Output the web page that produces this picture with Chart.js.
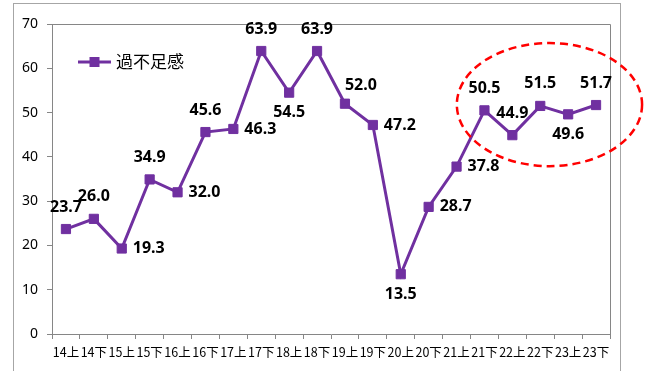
<!DOCTYPE html>
<html><head><meta charset="utf-8">
<script src="https://cdn.jsdelivr.net/npm/chart.js@4"></script>
<style>html,body{margin:0;padding:0;background:#fff}</style>
</head><body>
<canvas id="c" width="649" height="371" style="width:649px;height:371px;display:block"></canvas>
<script>
const categories = ['14上','14下','15上','15下','16上','16下','17上','17下','18上','18下','19上','19下','20上','20下','21上','21下','22上','22下','23上','23下'];
const seriesName = '過不足感';
const values = [23.7, 26.0, 19.3, 34.9, 32.0, 45.6, 46.3, 63.9, 54.5, 63.9, 52.0, 47.2, 13.5, 28.7, 37.8, 50.5, 44.9, 51.5, 49.6, 51.7];
const yTicks = [0, 10, 20, 30, 40, 50, 60, 70];

// label placement per point: a = above, b = below, r = right, ar = above-right
const labelPlacement = ['a','a','r','a','r','a','r','a','b','a','ar','r','b','r','r','a','a','a','b','a'];

const PURPLE = '#7030A0';
const AXIS = '#868686';

const decor = {
  id: 'decor',
  beforeDraw(chart) {
    const ctx = chart.ctx;
    ctx.save();
    ctx.fillStyle = '#fff';
    ctx.fillRect(0, 0, chart.width, chart.height);
    ctx.strokeStyle = '#a6a6a6';
    ctx.lineWidth = 1;
    ctx.strokeRect(13.5, 3.5, 607, 400);
    ctx.restore();
  },
  afterDraw(chart) {
    const ctx = chart.ctx;
    const a = chart.chartArea;
    ctx.save();
    // plot area top/right border
    ctx.strokeStyle = AXIS;
    ctx.lineWidth = 1;
    ctx.beginPath();
    ctx.moveTo(Math.round(a.left), Math.round(a.top) + 0.5);
    ctx.lineTo(Math.round(a.right) + 0.5, Math.round(a.top) + 0.5);
    ctx.lineTo(Math.round(a.right) + 0.5, Math.round(a.bottom));
    ctx.stroke();

    // data labels
    const meta = chart.getDatasetMeta(0);
    ctx.fillStyle = '#000';
    ctx.font = 'bold 16px "Noto Sans", "Liberation Sans", sans-serif';
    ctx.textBaseline = 'middle';
    meta.data.forEach((pt, i) => {
      const txt = values[i].toFixed(1);
      const p = labelPlacement[i];
      let x = pt.x, y = pt.y;
      if (p === 'a') { ctx.textAlign = 'center'; y -= 22; }
      else if (p === 'b') { ctx.textAlign = 'center'; y += 20; }
      else if (p === 'r') { ctx.textAlign = 'left'; x += 11; }
      else if (p === 'ar') { ctx.textAlign = 'left'; x += 0; y -= 18; }
      ctx.fillText(txt, x, y);
    });

    // legend
    const ly = 62, lx0 = 78, lx1 = 111;
    ctx.strokeStyle = PURPLE;
    ctx.lineWidth = 3;
    ctx.beginPath();
    ctx.moveTo(lx0, ly); ctx.lineTo(lx1, ly); ctx.stroke();
    ctx.fillStyle = PURPLE;
    ctx.fillRect((lx0 + lx1) / 2 - 5, ly - 5, 10, 10);
    ctx.fillStyle = '#000';
    ctx.font = '17px "Noto Sans CJK JP", sans-serif';
    ctx.textAlign = 'left';
    ctx.textBaseline = 'middle';
    ctx.fillText(seriesName, 116, ly);

    // highlight ellipse (value space)
    const xs = chart.scales.x, ys = chart.scales.y;
    const cx = xs.getPixelForValue(17.33);
    const rx = xs.getPixelForValue(17.33 + 3.32) - cx;
    const cy = ys.getPixelForValue(51.8);
    const ry = ys.getPixelForValue(51.8 - 13.9) - cy;
    ctx.strokeStyle = '#FF0000';
    ctx.lineWidth = 2.5;
    ctx.setLineDash([8, 5]);
    ctx.beginPath();
    ctx.ellipse(cx, cy, rx, ry, 0, 0, Math.PI * 2);
    ctx.stroke();
    ctx.restore();
  }
};

new Chart(document.getElementById('c'), {
  type: 'line',
  data: {
    labels: categories,
    datasets: [{
      label: seriesName,
      data: values,
      borderColor: PURPLE,
      backgroundColor: PURPLE,
      borderWidth: 3,
      pointStyle: 'rect',
      pointRadius: 6.5,
      pointBorderWidth: 1,
      pointBackgroundColor: PURPLE,
      pointBorderColor: PURPLE,
      tension: 0,
      fill: false
    }]
  },
  options: {
    responsive: false,
    animation: false,
    devicePixelRatio: 1,
    layout: { padding: { top: 24, right: 39, left: 0, bottom: 0 } },
    plugins: { legend: { display: false }, tooltip: { enabled: false } },
    scales: {
      x: {
        type: 'category',
        offset: true,
        grid: { offset: true, drawOnChartArea: false, drawTicks: true, tickLength: 5, color: AXIS },
        border: { color: AXIS, width: 1 },
        ticks: { autoSkip: false, maxRotation: 0, minRotation: 0, padding: 6, color: '#000',
                 font: { family: '"Noto Sans CJK JP", sans-serif', size: 12.5 } },
        afterFit(s) { s.height = 37; }
      },
      y: {
        min: 0, max: 70,
        grid: { drawOnChartArea: false, drawTicks: true, tickLength: 5, color: AXIS },
        border: { color: AXIS, width: 1 },
        ticks: { padding: 9, color: '#000', font: { family: '"Noto Sans", "Liberation Sans", sans-serif', size: 14 } },
        afterBuildTicks(s) { s.ticks = yTicks.map(v => ({ value: v })); },
        afterFit(s) { s.width = 52; }
      }
    }
  },
  plugins: [decor]
});
</script>
</body></html>
